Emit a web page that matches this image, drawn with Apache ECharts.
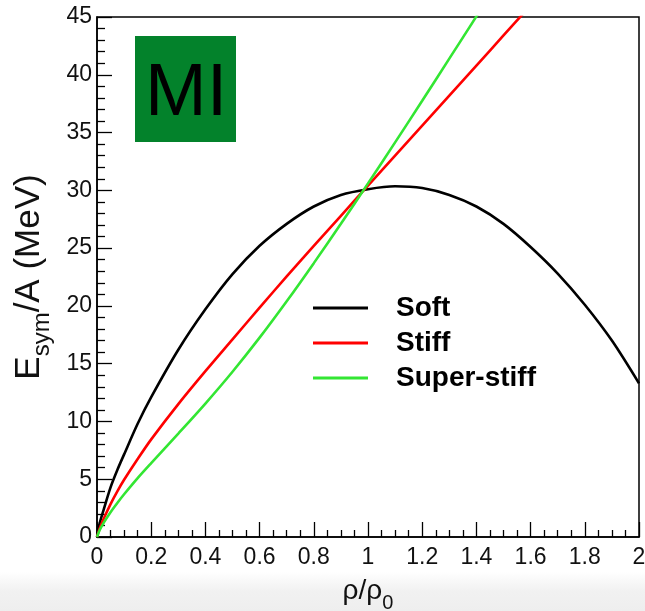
<!DOCTYPE html>
<html>
<head>
<meta charset="utf-8">
<script src="https://cdn.jsdelivr.net/npm/echarts@6/dist/echarts.min.js"></script>
<style>
html,body{margin:0;padding:0;background:#fff;}
#c{width:645px;height:611px;}
</style>
</head>
<body>
<div id="c"></div>
<script>
// ---- data ----
const xsSoft = [0, 0.01, 0.025, 0.05, 0.075, 0.1, 0.15, 0.2, 0.3, 0.4, 0.5, 0.6, 0.7, 0.8, 0.9, 1.0, 1.1, 1.2, 1.3, 1.4, 1.5, 1.6, 1.7, 1.8, 1.9, 2.0];
const soft   = [0, 1.2, 2.4, 4.3, 5.8, 7.15, 9.8, 12.1, 16.2, 19.7, 22.75, 25.2, 27.1, 28.6, 29.6, 30.1, 30.35, 30.2, 29.6, 28.6, 27.1, 25.1, 22.8, 20.1, 17.0, 13.3];

const xsStiff = [0, 0.01, 0.025, 0.05, 0.075, 0.1, 0.15, 0.2, 0.3, 0.4, 0.5, 0.6, 0.7, 0.8, 0.9, 1.0, 1.1, 1.2, 1.3, 1.4, 1.5, 1.6];
const stiff   = [0, 0.75, 1.6, 2.85, 3.95, 4.95, 6.75, 8.45, 11.5, 14.35, 17.1, 19.85, 22.55, 25.2, 27.8, 30.4, 33.0, 35.6, 38.2, 40.8, 43.4, 46.0];

const xsSuper = [0, 0.01, 0.025, 0.05, 0.075, 0.1, 0.15, 0.2, 0.3, 0.4, 0.5, 0.6, 0.7, 0.8, 0.9, 1.0, 1.1, 1.2, 1.3, 1.4, 1.45];
const superStiff = [0, 0.6, 1.25, 2.15, 2.95, 3.7, 5.1, 6.4, 8.95, 11.55, 14.3, 17.25, 20.4, 23.7, 27.1, 30.6, 34.15, 37.75, 41.4, 45.05, 47.0];

const seriesNames = ['Soft', 'Stiff', 'Super-stiff'];
const seriesColors = ['#000000', '#ff0000', '#33e633'];

const xTickInterval = 0.2;
const yTickInterval = 5;

function pairs(xs, ys) { return xs.map((x, i) => [x, ys[i]]); }

const chart = echarts.init(document.getElementById('c'), null, {renderer: 'canvas'});
const FONT = '"Liberation Sans", Arial, Helvetica, sans-serif';

const option = {
  backgroundColor: '#ffffff',
  animation: false,
  textStyle: {fontFamily: FONT},
  grid: {left: 97, right: 6, top: 17, bottom: 74, outerBoundsMode: 'none', containLabel: false,
         show: true, borderColor: '#000', borderWidth: 1.5, backgroundColor: 'transparent'},
  xAxis: {
    type: 'value', min: 0, max: 2, interval: xTickInterval,
    axisLine: {show: true, lineStyle: {color: '#000', width: 1.5}},
    axisTick: {show: true, inside: true, length: 15, lineStyle: {color: '#000', width: 1.3}},
    minorTick: {show: true, splitNumber: 4, length: 7, lineStyle: {color: '#000', width: 1.3}},
    splitLine: {show: false},
    axisLabel: {color: '#111', fontSize: 23, fontFamily: FONT, margin: 9},
    name: '{a|ρ/ρ}{s|0}', nameLocation: 'middle', nameGap: 40,
    nameTextStyle: {
      rich: {
        a: {fontSize: 28, fontFamily: FONT, color: '#111', lineHeight: 30, verticalAlign: 'top'},
        s: {fontSize: 20, fontFamily: FONT, color: '#111', lineHeight: 20, padding: [16, 0, 0, 0], verticalAlign: 'top'}
      }
    }
  },
  yAxis: {
    type: 'value', min: 0, max: 45, interval: yTickInterval,
    axisLine: {show: true, lineStyle: {color: '#000', width: 1.5}},
    axisTick: {show: true, inside: true, length: 15, lineStyle: {color: '#000', width: 1.3}},
    minorTick: {show: true, splitNumber: 5, length: 8, lineStyle: {color: '#000', width: 1.3}},
    splitLine: {show: false},
    axisLabel: {color: '#111', fontSize: 23, fontFamily: FONT, margin: 5},
    name: '{e|E}{s|sym}{e|/A (MeV)}', nameLocation: 'middle', nameGap: 49,
    nameTextStyle: {
      rich: {
        e: {fontSize: 35, fontFamily: FONT, color: '#111', lineHeight: 36, verticalAlign: 'top'},
        s: {fontSize: 24, fontFamily: FONT, color: '#111', lineHeight: 24, padding: [18, 0, 0, 0], verticalAlign: 'top'}
      }
    }
  },
  legend: {
    show: true, orient: 'vertical', left: 313, top: 292, padding: 0,
    icon: 'rect', itemWidth: 55, itemHeight: 3, itemGap: 3,
    data: seriesNames,
    textStyle: {fontSize: 28, fontWeight: 'bold', color: '#000', fontFamily: FONT, lineHeight: 32, padding: [0, 0, 0, 23]}
  },
  graphic: [
    {type: 'rect', z: -10, silent: true, shape: {x: 0, y: 572, width: 645, height: 39},
     style: {fill: new echarts.graphic.LinearGradient(0, 0, 0, 1, [{offset: 0, color: 'rgba(240,240,240,0)'}, {offset: 0.5, color: '#f1f1f1'}, {offset: 1, color: '#eeeeee'}])}},
    {type: 'rect', z: 10, shape: {x: 135, y: 36, width: 101, height: 106}, style: {fill: '#03822b'}},
    {type: 'text', z: 11, left: 145, top: 58, style: {text: 'MI', font: '74px "Liberation Sans", Arial, sans-serif', fill: '#000'}}
  ],
  series: [
    {name: seriesNames[0], type: 'line', data: pairs(xsSoft, soft), smooth: 0.3, showSymbol: false, symbol: 'none', clip: true, lineStyle: {color: seriesColors[0], width: 2.6}, itemStyle: {color: seriesColors[0]}},
    {name: seriesNames[1], type: 'line', data: pairs(xsStiff, stiff), smooth: 0.3, showSymbol: false, symbol: 'none', clip: true, lineStyle: {color: seriesColors[1], width: 2.6}, itemStyle: {color: seriesColors[1]}},
    {name: seriesNames[2], type: 'line', data: pairs(xsSuper, superStiff), smooth: 0.3, showSymbol: false, symbol: 'none', clip: true, lineStyle: {color: seriesColors[2], width: 2.6}, itemStyle: {color: seriesColors[2]}}
  ]
};
chart.setOption(option);
</script>
</body>
</html>
